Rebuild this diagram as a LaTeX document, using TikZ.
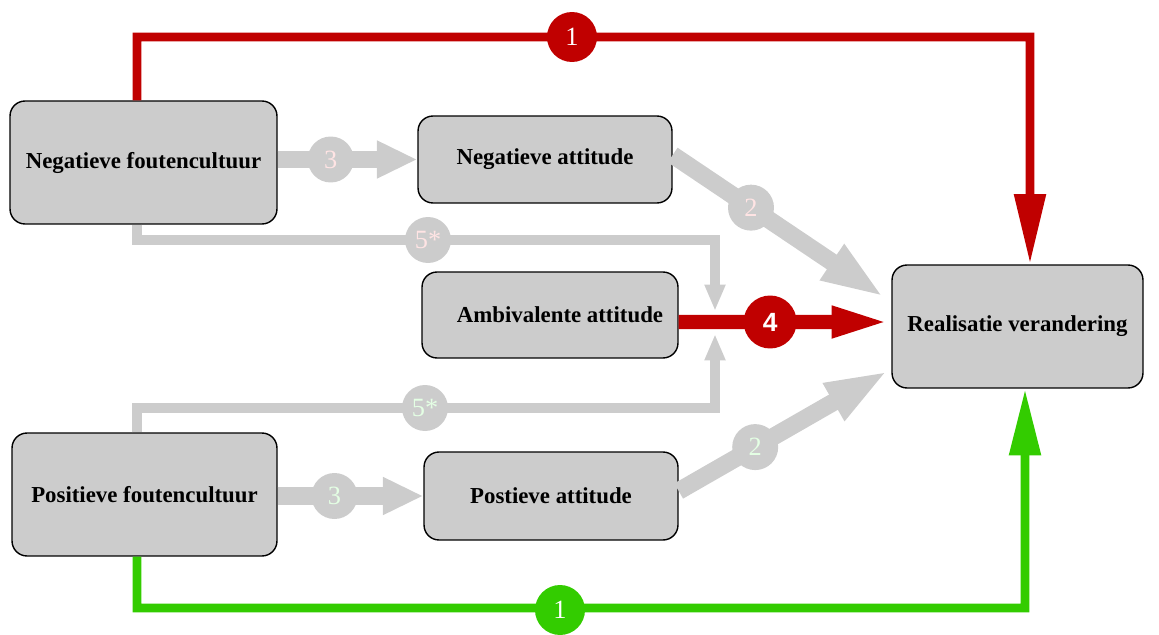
\documentclass[tikz,border=0pt]{standalone}
\usepackage{fontspec}
\setmainfont{Liberation Serif}
\newfontfamily\arialfont{Liberation Sans}
\usetikzlibrary{arrows.meta}
\definecolor{boxgrey}{HTML}{CCCCCC}
\definecolor{dred}{HTML}{C00000}
\definecolor{lgreen}{HTML}{33CC00}
\definecolor{pinkw}{HTML}{FFE4E4}
\definecolor{greenw}{HTML}{E4FFE4}
\begin{document}
\begin{tikzpicture}[x=0.02cm,y=-0.02cm,
  box/.style={draw=black, line width=0.8pt, fill=boxgrey, rounded corners=0.3cm,
    font=\bfseries\fontsize{13}{15}\selectfont, inner sep=0pt},
  redone/.style={draw=dred, line width=5.1pt, -{Triangle[width=17pt,length=40pt]}},
  greenone/.style={draw=lgreen, line width=5.1pt, -{Triangle[width=17pt,length=38pt]}},
  greythree/.style={draw=boxgrey, line width=9.7pt, -{Triangle[width=20pt,length=23pt]}},
  greytwo/.style={draw=boxgrey, line width=10pt, -{Triangle[width=22pt,length=36pt]}},
  redfour/.style={draw=dred, line width=8pt, -{Triangle[width=16pt,length=34pt]}},
  greyfive/.style={draw=boxgrey, line width=5.7pt, -{Triangle[width=11pt,length=15pt]}},
  redcirc/.style={circle, fill=dred, inner sep=0pt, minimum size=1.0cm, text=white,
    font=\fontsize{15}{15}\selectfont},
  greencirc/.style={circle, fill=lgreen, inner sep=0pt, minimum size=1.0cm, text=white,
    font=\fontsize{15}{15}\selectfont},
  greycirc/.style={circle, fill=boxgrey, inner sep=0pt, minimum size=0.92cm,
    font=\fontsize{15}{15}\selectfont},
  fourcirc/.style={circle, fill=dred, inner sep=0pt, minimum size=1.06cm, text=white,
    font=\arialfont\bfseries\fontsize{15}{15}\selectfont}
]
\useasboundingbox (0,0) rectangle (1159,635);

% boxes
\node[box, minimum width=5.34cm, minimum height=2.46cm] (NF) at (143.5,162.5) {Negatieve foutencultuur};
\node[box, minimum width=5.08cm, minimum height=1.74cm] (NA) at (545,159.5) {Negatieve attitude};
\node[box, minimum width=5.12cm, minimum height=1.72cm] (AA) at (550,315) {\hspace*{0.4cm}Ambivalente attitude};
\node[box, minimum width=5.30cm, minimum height=2.46cm] (PF) at (144.5,494.5) {Positieve foutencultuur};
\node[box, minimum width=5.08cm, minimum height=1.76cm] (PA) at (551,496) {Postieve attitude};
\node[box, minimum width=5.02cm, minimum height=2.46cm] (RV) at (1017.5,326.5) {\raisebox{0.1cm}{Realisatie verandering}};

% corner coordinates
\coordinate (k1) at (1030,37);
\coordinate (k2) at (1025,608);
\coordinate (k5a) at (715,240);
\coordinate (t5a) at (715,311);
\coordinate (k5b) at (715,408);
\coordinate (t5b) at (715,334);

% path 1 (red)
\draw[redone] ([xshift=-0.13cm]NF.north) |- (k1) -- ([xshift=0.25cm]RV.north);
\node[redcirc] (c1r) at (572,37) {1};

% path 1 (green)
\draw[greenone] ([xshift=-0.15cm]PF.south) |- (k2) -- ([xshift=0.15cm]RV.south);
\node[greencirc] (c1g) at (560,610) {1};

% paths 5*
\draw[greyfive] ([xshift=-0.13cm]NF.south) |- (k5a) -- (t5a);
\node[greycirc, text=pinkw] (c5a) at (428,240) {5*};
\draw[greyfive] ([xshift=-0.15cm]PF.north) |- (k5b) -- (t5b);
\node[greycirc, text=greenw] (c5b) at (425,408) {5*};

% paths 3
\draw[greythree] (NF.east |- NA.west) -- node[greycirc, pos=0.38, text=pinkw] {3} (NA.west);
\draw[greythree] (PF.east |- PA.west) -- node[greycirc, pos=0.39, text=greenw] {3} (PA.west);

% paths 2
\draw[greytwo] ([yshift=0.09cm]NA.east) -- node[greycirc, pos=0.37, text=pinkw] {2} ([xshift=-0.14cm,yshift=-0.66cm]RV.north west);
\draw[greytwo] ([yshift=0.1cm]PA.east) -- node[greycirc, pos=0.365, text=greenw] {2} ([xshift=-0.06cm,yshift=0.36cm]RV.south west);

% path 4
\draw[redfour] ([yshift=-0.14cm]AA.east) -- node[fourcirc, pos=0.43] {4} ([yshift=0.09cm]RV.west);
\end{tikzpicture}
\end{document}
